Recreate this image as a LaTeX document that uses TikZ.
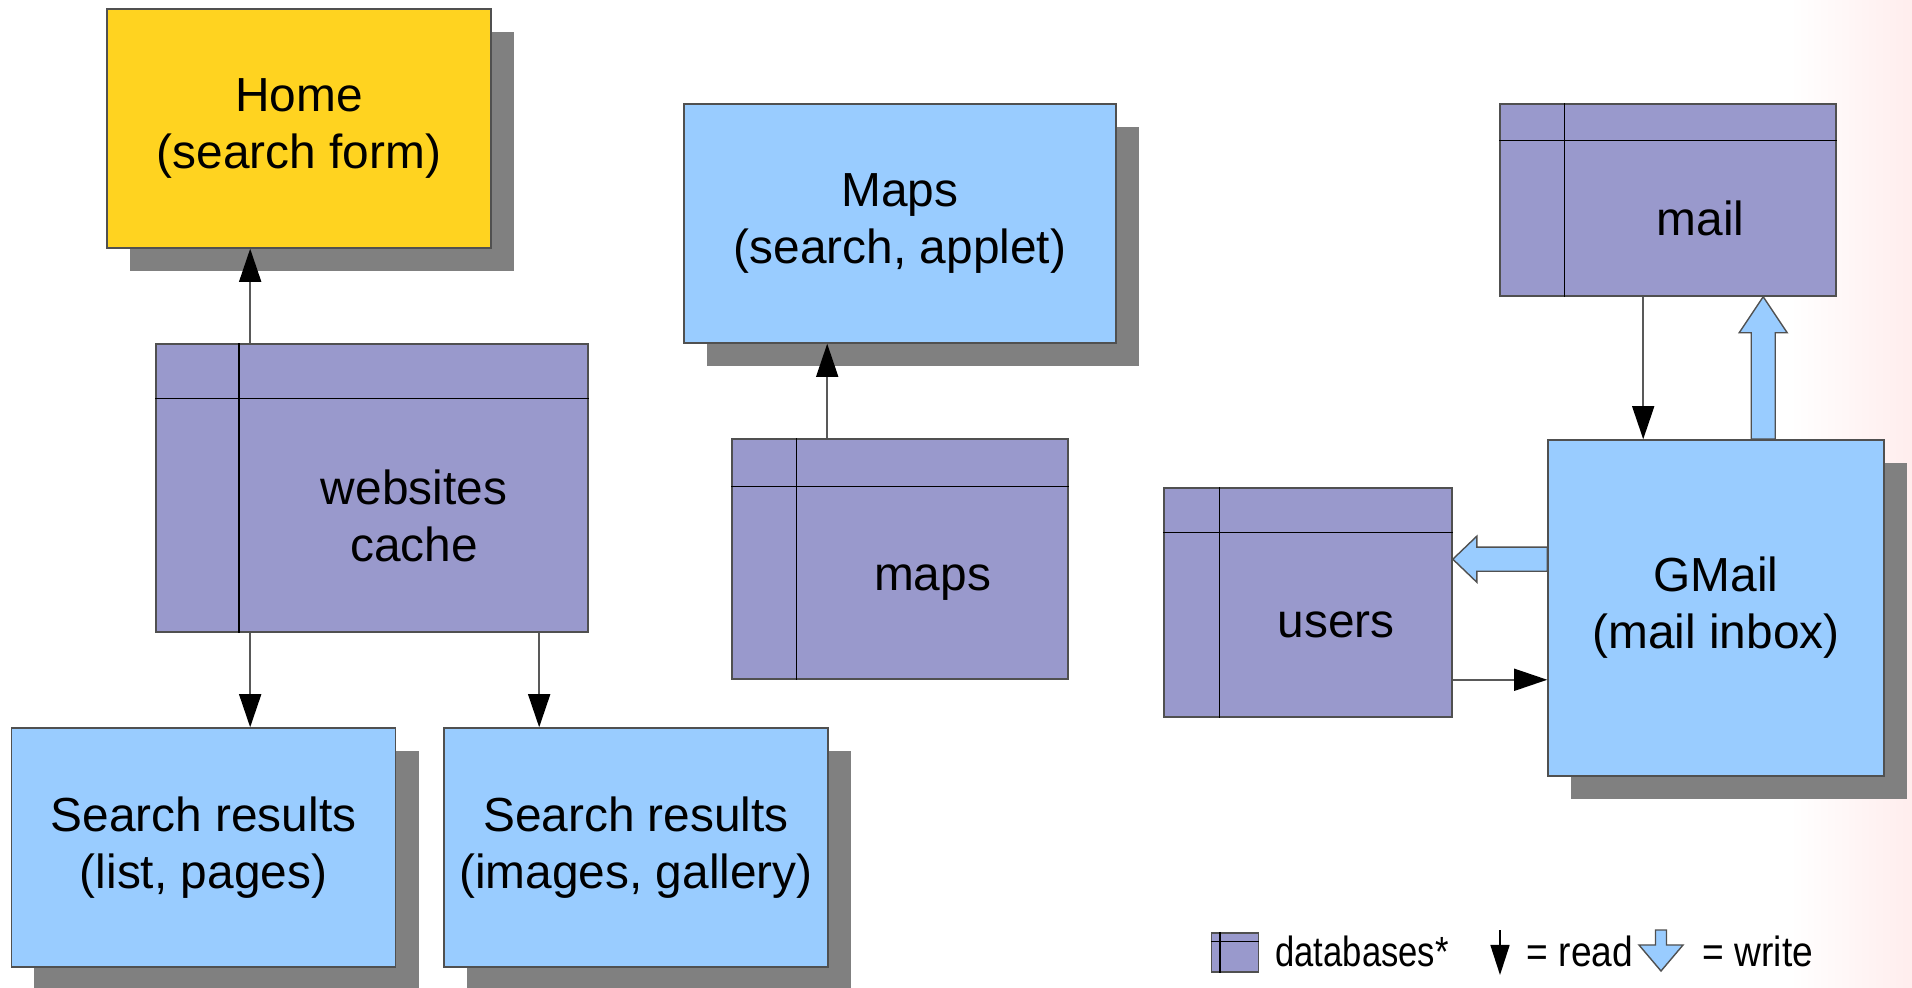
\documentclass[tikz,border=0pt]{standalone}
\usepackage{fontspec}
\setmainfont{Liberation Sans}
\usepackage{graphicx}
\usetikzlibrary{arrows.meta,calc,shadows}
\definecolor{homeyellow}{RGB}{255,211,32}
\definecolor{pageblue}{RGB}{153,204,255}
\definecolor{dbpurple}{RGB}{153,153,204}
\definecolor{shadowgray}{RGB}{128,128,128}
\definecolor{edgegray}{RGB}{80,80,80}
\tikzset{>=stealth}
\newcommand{\boxfont}{\fontsize{13.6pt}{16.2pt}\selectfont}
\newcommand{\legfont}{\fontsize{12pt}{13pt}\selectfont}
\tikzset{%
    page/.style={draw=edgegray, line width=0.4pt, fill=pageblue,
        minimum width=3.84cm, minimum height=2.39cm, inner sep=0pt,
        align=center, font=\boxfont,
        drop shadow={shadow xshift=0.23cm, shadow yshift=-0.23cm,
            fill=shadowgray, opacity=1}},
    dbbox/.style={draw=edgegray, line width=0.4pt, fill=dbpurple, inner sep=0pt},
    dbline/.style={draw=black, line width=0.4pt},
    boxtext/.style={font=\boxfont, align=center},
    read/.style={draw=black!65, line width=0.45pt,
        -{Triangle[length=0.33cm, width=0.22cm, black]}},
    write/.style={draw=edgegray, line width=0.4pt, fill=pageblue, line join=miter},
    legtext/.style={anchor=base, font=\legfont, inner sep=0pt}
}
% table symbol: name, centre, width, height, column, row, text
\newcommand{\dbtable}[7]{%
    \node[dbbox, minimum width=#3, minimum height=#4] (#1) at #2 {};
    \draw[dbline] ($(#1.north west)+(#5,0)$) -- ($(#1.south west)+(#5,0)$);
    \draw[dbline] ($(#1.north west)+(0,#6)$) -- ($(#1.north east)+(0,#6)$);
    \coordinate (#1-cell) at ($(#1.north west)+(#5,#6)$);
    \node[boxtext] (#1-label) at ($(#1-cell)!0.5!(#1.south east)$) {#7};
}
% block arrow: from, to, head length, half shaft, half head
\newcommand{\writearrow}[5]{%
    \coordinate (wa) at (#1);
    \coordinate (wb) at (#2);
    \coordinate (wh) at ($(wb)!#3!(wa)$);
    \draw[write] ($(wa)!#4!90:(wb)$) -- ($(wh)!#4!90:(wb)$)
        -- ($(wh)!#5!90:(wb)$) -- (wb) -- ($(wh)!#5!-90:(wb)$)
        -- ($(wh)!#4!-90:(wb)$) -- ($(wa)!#4!-90:(wb)$) -- cycle;
}

\begin{document}
\begin{tikzpicture}[x=0.01cm, y=-0.01cm]
    \useasboundingbox (0,0) rectangle (1912,988);
    \shade[left color=white, right color=red!7] (1790,0) rectangle (1912,988);

    % pages
    \node[page, fill=homeyellow] (home) at (299,128.5) {Home\\(search form)};
    \node[page] (list) at (203.5,847.5) {Search results\\(list, pages)};
    \node[page] (gallery) at (636,847.5) {Search results\\(images, gallery)};
    \node[page, minimum width=4.32cm] (maps) at (900,223.5) {Maps\\(search, applet)};
    \node[page, minimum width=3.36cm, minimum height=3.36cm] (gmail) at (1716,608) {GMail\\(mail inbox)};

    % databases
    \dbtable{cache}{(372,488)}{4.32cm}{2.88cm}{84}{55}{websites\\cache}
    \dbtable{mapsdb}{(900,559)}{3.36cm}{2.40cm}{65}{48}{maps}
    \dbtable{maildb}{(1668,200)}{3.36cm}{1.92cm}{65}{37}{mail}
    \dbtable{usersdb}{(1308,602.5)}{2.88cm}{2.29cm}{56}{45}{users}

    % reads
    \coordinate (cx1) at ($(cache.north west)+(95,0)$);
    \draw[read] (cx1) -- (cx1 |- home.south);
    \draw[read] (cx1 |- cache.south) -- (cx1 |- list.north);
    \coordinate (cx2) at ($(cache.south west)+(384,0)$);
    \draw[read] (cx2) -- (cx2 |- gallery.north);
    \coordinate (mx) at ($(mapsdb.north west)+(96,0)$);
    \draw[read] (mx) -- (mx |- maps.south);
    \coordinate (lx) at ($(maildb.south west)+(144,0)$);
    \draw[read] (lx) -- (lx |- gmail.north);
    \coordinate (uy) at ($(usersdb.south east)+(0,-38)$);
    \draw[read] (uy) -- (uy -| gmail.west);

    % writes
    \coordinate (wx) at ($(gmail.north west)+(216,0)$);
    \writearrow{wx}{wx |- maildb.south}{0.36cm}{0.12cm}{0.24cm}
    \coordinate (wy) at ($(gmail.north west)+(0,120)$);
    \writearrow{wy}{wy -| usersdb.east}{0.24cm}{0.12cm}{0.23cm}

    % legend
    \dbtable{legdb}{(1235,952.5)}{0.47cm}{0.39cm}{9}{9}{}
    \node[legtext] (legdbtext) at (1362,966) {\scalebox{0.82}[1]{databases*}};
    \coordinate (lrtop) at (1500,930);
    \coordinate (lrtip) at (1500,975);
    \draw[draw=black, line width=0.45pt, -{Triangle[length=0.3cm, width=0.19cm, black]}] (lrtop) -- (lrtip);
    \node[legtext] (legread) at (1580,966) {\scalebox{0.88}[1]{= read}};
    \coordinate (lwtop) at (1661,930);
    \coordinate (lwtip) at (1661,971);
    \writearrow{lwtop}{lwtip}{0.26cm}{0.055cm}{0.22cm}
    \node[legtext] (legwrite) at (1758,966) {\scalebox{0.88}[1]{= write}};
\end{tikzpicture}
\end{document}
